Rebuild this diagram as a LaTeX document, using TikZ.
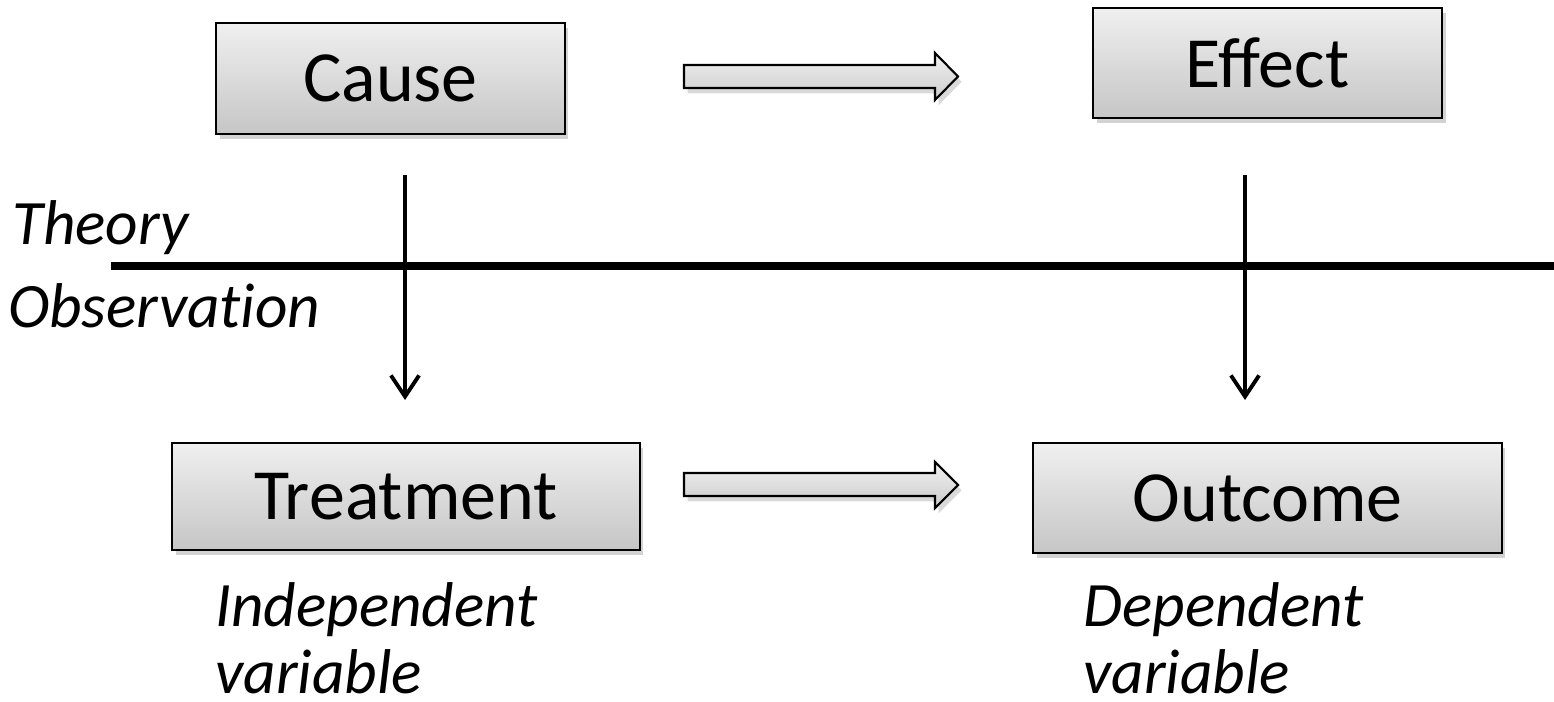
\documentclass[tikz,border=0pt]{standalone}
\usepackage{fontspec}
\setmainfont{Carlito}
\newfontfamily\labelfont[Ligatures=NoCommon]{Carlito}
\usetikzlibrary{arrows.meta,shadows}
\begin{document}
\begin{tikzpicture}[x=0.02cm,y=-0.02cm,
  box/.style={draw=black, line width=1.2pt, top color=gray!12, bottom color=gray!45,
    drop shadow={opacity=0.35, shadow xshift=2pt, shadow yshift=-3pt},
    font=\fontsize{41}{49}\selectfont, inner sep=0pt},
  blockarrow/.style={draw=black, line width=1.2pt, top color=gray!12, bottom color=gray!40,
    drop shadow={opacity=0.3, shadow xshift=2pt, shadow yshift=-3pt}},
  label/.style={font=\labelfont\fontsize{36}{40}\selectfont\itshape, inner sep=0pt, anchor=base west, align=left},
  varrow/.style={line width=2.2pt, -{Straight Barb[length=12pt,width=16pt,line width=2.2pt]}},
  divider/.style={line width=4pt}]
\useasboundingbox (0,0) rectangle (1554,702);
% boxes
\node[box, minimum width=6.98cm, minimum height=2.22cm] (cause) at (390.5,78.5) {Cause};
\node[box, minimum width=6.98cm, minimum height=2.20cm] (effect) at (1267.5,63) {Effect};
\node[box, minimum width=9.36cm, minimum height=2.14cm] (treat) at (406,496.5) {Treatment};
\node[box, minimum width=9.38cm, minimum height=2.20cm] (outcome) at (1267.5,498) {Outcome};
% block arrows
\path[blockarrow] (684,65) -- (935,65) -- (935,53) -- (958,76.5) -- (935,100) -- (935,88) -- (684,88) -- cycle;
\path[blockarrow] (684,473) -- (935,473) -- (935,462) -- (958,485) -- (935,508) -- (935,496) -- (684,496) -- cycle;
% divider line
\coordinate (divL) at (111,266);
\coordinate (divR) at (1554,266);
\draw[divider] (divL) -- (divR);
% vertical arrows
\coordinate (v1s) at (405,175);
\coordinate (v1e) at (405,400);
\coordinate (v2s) at (1245,175);
\coordinate (v2e) at (1245,400);
\draw[varrow] (v1s) -- (v1e);
\draw[varrow] (v2s) -- (v2e);
% labels
\node[label] (theory) at (12,245) {Theory};
\node[label] (obs) at (8,328) {Observation};
\node[label] (indep) at (215,693) {Independent\\[-2pt]variable};
\node[label] (dep) at (1083,693) {Dependent\\[-2pt]variable};
\end{tikzpicture}
\end{document}
